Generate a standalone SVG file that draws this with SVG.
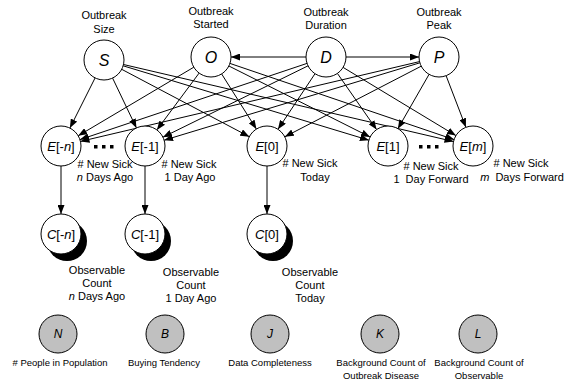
<svg xmlns="http://www.w3.org/2000/svg" width="565" height="382" viewBox="0 0 565 382">
<defs>
<marker id="ah" markerUnits="userSpaceOnUse" markerWidth="10" markerHeight="7" refX="9" refY="3.5" orient="auto">
<path d="M0,0 L9,3.5 L0,7 z" fill="#000"/>
</marker>
<style>
.lbl{font-family:"Liberation Sans",Arial,sans-serif;font-size:11px;fill:#000;text-anchor:middle}
.sm{font-family:"Liberation Sans",Arial,sans-serif;font-size:9.5px;fill:#000;text-anchor:middle}
.nd{fill:#fff;stroke:#000;stroke-width:1}
.gr{fill:#c0c0c0;stroke:#000;stroke-width:1}
.sh{fill:#000}
.v{font-family:"Liberation Sans",Arial,sans-serif;font-size:16px;font-style:italic;text-anchor:middle}
.ev{font-family:"Liberation Sans",Arial,sans-serif;font-size:13px;text-anchor:middle}
.bv{font-family:"Liberation Sans",Arial,sans-serif;font-size:12px;font-style:italic;text-anchor:middle}
.i{font-style:italic}
.e{fill:none;stroke:#000;stroke-width:1;marker-end:url(#ah)}
.dot{fill:#000}
</style>
</defs>
<g id="connectors">
<line class="e" x1="306" y1="57" x2="231" y2="57"/>
<line class="e" x1="346" y1="57" x2="419" y2="57"/>
<line class="e" x1="95.1" y1="77.9" x2="69.9" y2="128.1"/>
<line class="e" x1="112.6" y1="78.1" x2="136.4" y2="127.9"/>
<line class="e" x1="121.7" y1="69.3" x2="249.3" y2="136.7"/>
<line class="e" x1="123.1" y1="65.8" x2="368.9" y2="140.2"/>
<line class="e" x1="123.5" y1="64.5" x2="453.5" y2="141.5"/>
<line class="e" x1="193.8" y1="67.2" x2="78.2" y2="135.8"/>
<line class="e" x1="199.1" y1="73.1" x2="156.9" y2="129.9"/>
<line class="e" x1="221.6" y1="73.9" x2="256.4" y2="129.1"/>
<line class="e" x1="228.9" y1="66.0" x2="370.1" y2="137.0"/>
<line class="e" x1="229.9" y1="63.4" x2="454.1" y2="139.6"/>
<line class="e" x1="307.0" y1="63.4" x2="80.0" y2="139.6"/>
<line class="e" x1="308.1" y1="65.8" x2="162.9" y2="137.2"/>
<line class="e" x1="315.0" y1="73.7" x2="278.0" y2="129.3"/>
<line class="e" x1="337.4" y1="73.4" x2="376.6" y2="129.6"/>
<line class="e" x1="343.1" y1="67.4" x2="455.9" y2="135.6"/>
<line class="e" x1="419.5" y1="61.6" x2="80.5" y2="141.4"/>
<line class="e" x1="419.9" y1="62.8" x2="164.1" y2="140.2"/>
<line class="e" x1="421.2" y1="66.2" x2="284.8" y2="136.8"/>
<line class="e" x1="429.1" y1="74.3" x2="397.9" y2="128.7"/>
<line class="e" x1="446.1" y1="75.7" x2="465.9" y2="127.3"/>
<line class="e" x1="61" y1="166" x2="61" y2="214"/>
<line class="e" x1="145" y1="166" x2="145" y2="214"/>
<line class="e" x1="267" y1="166" x2="267" y2="214"/>
</g>
<g id="S"><circle class="nd" cx="104" cy="60" r="20"/><text class="v" x="104" y="66">S</text>
<text class="lbl" x="104" y="19">Outbreak</text><text class="lbl" x="104" y="33">Size</text></g>
<g id="O"><circle class="nd" cx="211" cy="57" r="20"/><text class="v" x="211" y="63">O</text>
<text class="lbl" x="211" y="15">Outbreak</text><text class="lbl" x="211" y="28">Started</text></g>
<g id="D"><circle class="nd" cx="326" cy="57" r="20"/><text class="v" x="326" y="63">D</text>
<text class="lbl" x="326" y="16">Outbreak</text><text class="lbl" x="326" y="29">Duration</text></g>
<g id="P"><circle class="nd" cx="439" cy="57" r="20"/><text class="v" x="439" y="63">P</text>
<text class="lbl" x="439" y="16">Outbreak</text><text class="lbl" x="439" y="29">Peak</text></g>
<g id="E-n"><circle class="nd" cx="61" cy="146" r="20"/><text class="ev" x="61" y="151"><tspan class="i">E</tspan>[-<tspan class="i">n</tspan>]</text>
<text class="lbl" x="105" y="168"># New Sick</text><text class="lbl" x="105" y="181"><tspan class="i">n</tspan> Days Ago</text></g>
<g id="dots1"><rect class="dot" x="94" y="145" width="3.5" height="3.5"/><rect class="dot" x="102" y="145" width="3.5" height="3.5"/><rect class="dot" x="110" y="145" width="3.5" height="3.5"/></g>
<g id="E-1"><circle class="nd" cx="145" cy="146" r="20"/><text class="ev" x="145" y="151"><tspan class="i">E</tspan>[-1]</text>
<text class="lbl" x="189" y="168"># New Sick</text><text class="lbl" x="190" y="181">1 Day Ago</text></g>
<g id="E0"><circle class="nd" cx="267" cy="146" r="20"/><text class="ev" x="267" y="151"><tspan class="i">E</tspan>[0]</text>
<text class="lbl" x="310" y="167"># New Sick</text><text class="lbl" x="315" y="181">Today</text></g>
<g id="E1"><circle class="nd" cx="388" cy="146" r="20"/><text class="ev" x="388" y="151"><tspan class="i">E</tspan>[1]</text>
<text class="lbl" x="431" y="170"># New Sick</text><text class="lbl" x="431" y="183" xml:space="preserve">1  Day Forward</text></g>
<g id="dots2"><rect class="dot" x="419" y="145" width="3.5" height="3.5"/><rect class="dot" x="427" y="145" width="3.5" height="3.5"/><rect class="dot" x="435" y="145" width="3.5" height="3.5"/></g>
<g id="Em"><circle class="nd" cx="473" cy="146" r="20"/><text class="ev" x="473" y="151"><tspan class="i">E</tspan>[<tspan class="i">m</tspan>]</text>
<text class="lbl" x="521" y="167"># New Sick</text><text class="lbl" x="522" y="181" xml:space="preserve"><tspan class="i">m</tspan>  Days Forward</text></g>
<g id="C-n"><circle class="sh" cx="67" cy="241" r="20"/><circle class="nd" cx="61" cy="234" r="20"/><text class="ev" x="61" y="239"><tspan class="i">C</tspan>[-<tspan class="i">n</tspan>]</text>
<text class="lbl" x="97" y="274">Observable</text><text class="lbl" x="97" y="287">Count</text><text class="lbl" x="97" y="300"><tspan class="i">n</tspan> Days Ago</text></g>
<g id="C-1"><circle class="sh" cx="151" cy="241" r="20"/><circle class="nd" cx="145" cy="234" r="20"/><text class="ev" x="145" y="239"><tspan class="i">C</tspan>[-1]</text>
<text class="lbl" x="191" y="276">Observable</text><text class="lbl" x="191" y="289">Count</text><text class="lbl" x="191" y="302">1 Day Ago</text></g>
<g id="C0"><circle class="sh" cx="273" cy="241" r="20"/><circle class="nd" cx="267" cy="234" r="20"/><text class="ev" x="267" y="239"><tspan class="i">C</tspan>[0]</text>
<text class="lbl" x="310" y="276">Observable</text><text class="lbl" x="310" y="289">Count</text><text class="lbl" x="310" y="302">Today</text></g>
<g id="N"><circle class="gr" cx="58" cy="334" r="19"/><text class="bv" x="58" y="338">N</text><text class="sm" x="60" y="366"># People in Population</text></g>
<g id="B"><circle class="gr" cx="165" cy="334" r="19"/><text class="bv" x="165" y="338">B</text><text class="sm" x="164" y="366">Buying Tendency</text></g>
<g id="J"><circle class="gr" cx="270" cy="334" r="19"/><text class="bv" x="270" y="338">J</text><text class="sm" x="270" y="366">Data Completeness</text></g>
<g id="K"><circle class="gr" cx="380" cy="334" r="19"/><text class="bv" x="380" y="338">K</text><text class="sm" x="381" y="366">Background Count of</text><text class="sm" x="381" y="379">Outbreak Disease</text></g>
<g id="L"><circle class="gr" cx="478" cy="334" r="19"/><text class="bv" x="478" y="338">L</text><text class="sm" x="479" y="366">Background Count of</text><text class="sm" x="479" y="379">Observable</text></g>
</svg>
